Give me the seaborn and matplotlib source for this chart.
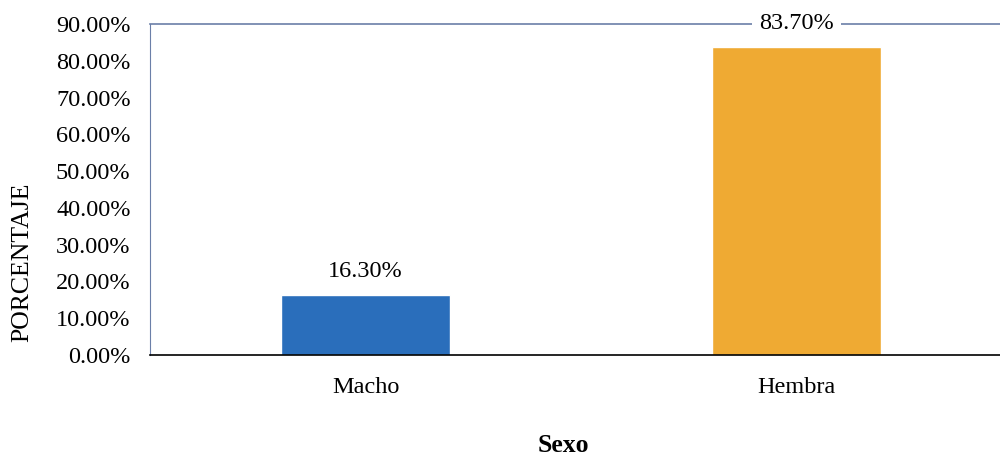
import seaborn as sns
import matplotlib.pyplot as plt
import pandas as pd
from matplotlib.ticker import PercentFormatter

# Data
categorias = ["Macho", "Hembra"]
porcentajes = [16.30, 83.70]
colores = ["#2A6EBB", "#EFAA33"]

df = pd.DataFrame({"Sexo": categorias, "Porcentaje": porcentajes})

sns.set_style("white")
plt.rcParams['font.family'] = ['Liberation Serif', 'DejaVu Serif']
plt.rcParams['text.color'] = 'black'
plt.rcParams['axes.labelcolor'] = 'black'
plt.rcParams['xtick.color'] = 'black'
plt.rcParams['ytick.color'] = 'black'

fig = plt.figure(figsize=(10, 4.55), dpi=100)
ax = fig.add_axes([0.15, 0.2198, 0.862, 0.7275])

sns.barplot(data=df, x="Sexo", y="Porcentaje", hue="Sexo", palette=colores,
            width=0.39, saturation=1, legend=False, ax=ax,
            edgecolor="white", linewidth=1)

ax.set_xlim(-0.5, 1.5)
ax.set_ylim(0, 90)
ax.set_yticks(range(0, 91, 10))
ax.yaxis.set_major_formatter(PercentFormatter(decimals=2))
ax.tick_params(axis="both", length=0, labelsize=17.5)
ax.tick_params(axis="y", pad=14)
ax.tick_params(axis="x", pad=16)

# Spines
ax.spines["right"].set_visible(False)
ax.spines["left"].set_color("#6B7FA8")
ax.spines["top"].set_color("#6B7FA8")
ax.spines["top"].set_linewidth(1.2)
ax.spines["bottom"].set_color("black")
ax.spines["bottom"].set_linewidth(1.2)

# Value labels
for i, v in enumerate(porcentajes):
    ax.annotate(f"{v:.2f}%", xy=(i, v), xytext=(0, 17), textcoords="offset points",
                ha="center", va="center", fontsize=17.5,
                bbox=dict(facecolor="white", edgecolor="none", pad=5),
                annotation_clip=False, zorder=5)

ax.set_ylabel("PORCENTAJE", fontsize=18.5, va="center")
ax.yaxis.set_label_coords(-0.1485, 0.28)
ax.set_xlabel("Sexo", fontsize=18.5, fontweight="bold", va="center")
ax.xaxis.set_label_coords(0.48, -0.272)

fig.savefig("out.png", dpi=100)
